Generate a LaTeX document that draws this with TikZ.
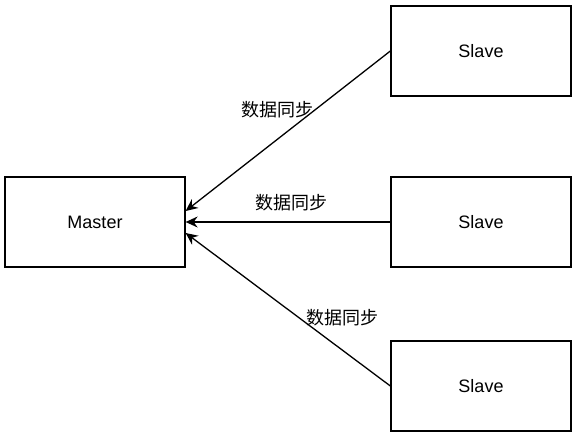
\documentclass[tikz,border=0pt]{standalone}
\usepackage{fontspec}
\setmainfont{Liberation Sans}
\newfontfamily\cjk{Noto Sans CJK SC}
\usetikzlibrary{arrows.meta}
\usetikzlibrary{positioning}
\tikzset{
  box/.style={draw,line width=1.3pt,minimum width=180pt,minimum height=90pt,
    inner sep=0pt,font=\fontsize{18}{20}\selectfont},
  sync/.style={-{Stealth[length=12pt,width=11pt,inset=4pt]},line width=1.3pt},
  synclabel/.style={font=\cjk\fontsize{18}{20}\selectfont,inner sep=0pt}
}
\begin{document}
\begin{tikzpicture}[x=1pt,y=1pt]
    \useasboundingbox (0,0) rectangle (581,437);
    % boxes
    \node[box] (master) at (95,215) {Master};
    \node[box] (slaveA) at (481,386) {Slave};
    \node[box] (slaveB) at (481,215) {Slave};
    \node[box] (slaveC) at (481,51) {Slave};
    % replication
    \draw[sync] (slaveA.west) -- ([yshift=11pt]master.east);
    \draw[sync] (slaveB.west) -- (master.east);
    \draw[sync] (slaveC.west) -- ([yshift=-11pt]master.east);
    \node[synclabel] (syncA) at (277,327) {数据同步};
    \node[synclabel] (syncB) at (291,234) {数据同步};
    \node[synclabel] (syncC) at (342,119) {数据同步};
\end{tikzpicture}
\end{document}
